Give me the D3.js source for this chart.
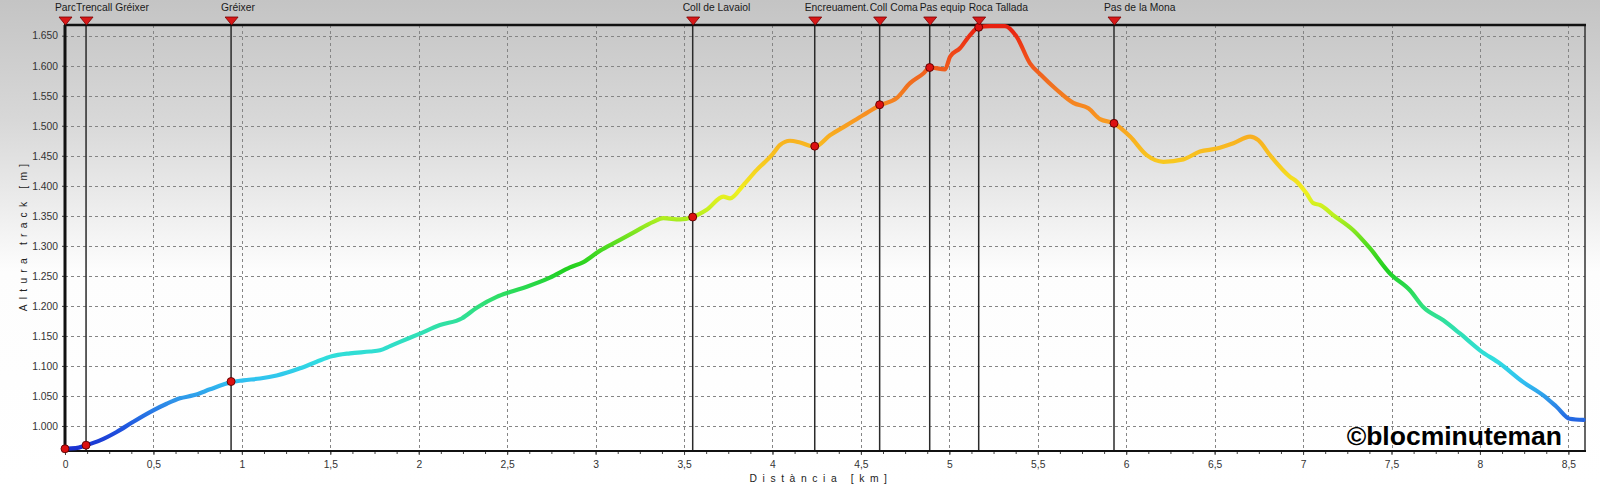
<!DOCTYPE html>
<html><head><meta charset="utf-8">
<script src="https://cdn.jsdelivr.net/npm/d3@7"></script>
<style>
html,body{margin:0;padding:0;background:#fff;}
svg{display:block;font-family:"Liberation Sans",Arial,sans-serif;}
</style></head>
<body>
<svg id="chart" width="1600" height="485"></svg>
<script>
// ---- data ----
const distKm = [0.000,0.060,0.119,0.198,0.292,0.386,0.499,0.575,0.650,0.726,0.820,0.895,0.939,1.008,1.103,1.197,1.329,1.423,1.508,1.611,1.725,1.781,1.838,1.894,2.000,2.120,2.243,2.328,2.441,2.516,2.611,2.742,2.855,2.931,3.025,3.119,3.213,3.326,3.383,3.477,3.549,3.628,3.722,3.760,3.835,3.910,3.996,4.043,4.099,4.156,4.239,4.325,4.420,4.514,4.606,4.702,4.778,4.853,4.889,4.976,5.004,5.060,5.117,5.166,5.230,5.315,5.381,5.456,5.517,5.607,5.701,5.786,5.852,5.931,6.022,6.116,6.210,6.323,6.417,6.511,6.606,6.700,6.747,6.813,6.926,6.964,7.020,7.058,7.096,7.171,7.284,7.378,7.491,7.604,7.679,7.793,7.887,8.000,8.113,8.245,8.358,8.433,8.508,8.586];
const elevM  = [962,963,968,976,990,1007,1026,1037,1046,1051,1061,1069,1073,1076,1079,1084,1096,1107,1116,1121,1124,1126,1133,1140,1153,1168,1179,1197,1215,1223,1232,1247,1264,1273,1292,1307,1322,1340,1346,1344,1348,1360,1382,1379,1401,1426,1451,1468,1475,1472,1465,1484,1501,1518,1534,1546,1571,1587,1597,1594,1615,1629,1651,1664,1666,1666,1648,1604,1585,1560,1538,1529,1511,1504,1482,1451,1440,1444,1457,1462,1471,1482,1476,1451,1415,1407,1387,1371,1368,1351,1326,1296,1254,1226,1198,1176,1154,1126,1104,1073,1051,1032,1012,1010];

const wpNames = ["Parc","Trencall Gréixer","Gréixer","Coll de Lavaiol","Encreuament.","Coll Coma","Pas equip","Roca Tallada","Pas de la Mona"];
const wpDist  = [0.000,0.119,0.939,3.549,4.239,4.606,4.889,5.166,5.931];
const wpElev  = [962,968,1074,1348,1466,1535,1597,1664,1504];

const yTicks = [1000,1050,1100,1150,1200,1250,1300,1350,1400,1450,1500,1550,1600,1650];
const xTicks = [0,0.5,1,1.5,2,2.5,3,3.5,4,4.5,5,5.5,6,6.5,7,7.5,8,8.5];

const colorElev = [960,1000,1040,1075,1110,1160,1210,1260,1300,1350,1390,1440,1480,1520,1570,1620,1665];
const colorHex  = ["#1a2fd0","#2058e0","#2e90e8","#30c0f0","#30dde0","#30e0b0","#30e070","#20d020","#50dc20","#b8f020","#f0f020","#f8c820","#f8b020","#f89020","#f07020","#f04818","#e82010"];

// ---- layout ----
const W = 1600, H = 485;
const L = 65, R = 1585, T = 25, B = 451;
const svg = d3.select("#chart");
const x = d3.scaleLinear().domain([0, 8.594]).range([L, R]);
const y = d3.scaleLinear().domain([958.3, 1667.8]).range([B, T]);

const loc = d3.formatLocale({decimal: ",", thousands: ".", grouping: [3], currency: ["", ""]});
const fy = loc.format(",");
const fx = loc.format(".1~f");

const defs = svg.append("defs");
const bg = defs.append("linearGradient").attr("id","bg").attr("x1",0).attr("y1",0).attr("x2",0).attr("y2",1);
[[0,"#c4c4c4"],[0.25,"#d8d8d8"],[0.42,"#ececec"],[0.56,"#fdfdfd"],[1,"#ffffff"]].forEach(s=>bg.append("stop").attr("offset",s[0]).attr("stop-color",s[1]));

const lg = defs.append("linearGradient").attr("id","prof").attr("gradientUnits","userSpaceOnUse")
  .attr("x1",0).attr("x2",0).attr("y1",y(colorElev[0])).attr("y2",y(colorElev[colorElev.length-1]));
const e0 = colorElev[0], e1 = colorElev[colorElev.length-1];
colorElev.forEach((e,i)=>lg.append("stop").attr("offset",(e-e0)/(e1-e0)).attr("stop-color",colorHex[i]));

svg.append("rect").attr("width",W).attr("height",H).attr("fill","url(#bg)");

// grid
const grid = svg.append("g").attr("stroke","#858585").attr("stroke-width",1).attr("stroke-dasharray","3,3");
grid.selectAll(".gy").data(yTicks).join("line")
  .attr("x1",L).attr("x2",R).attr("y1",d=>Math.round(y(d))+0.5).attr("y2",d=>Math.round(y(d))+0.5);
grid.selectAll(".gx").data(xTicks.filter(d=>d>0)).join("line")
  .attr("y1",T).attr("y2",B).attr("x1",d=>Math.round(x(d))+0.5).attr("x2",d=>Math.round(x(d))+0.5);

// x axis
const xAxis = d3.axisBottom(x).tickValues(xTicks).tickFormat(fx).tickSize(4).tickPadding(6);
const gx = svg.append("g").attr("transform",`translate(0,${B})`).call(xAxis);
const minor = d3.range(0, 8.594, 0.125);
const gxm = svg.append("g").attr("transform",`translate(0,${B})`).call(d3.axisBottom(x).tickValues(minor).tickFormat("").tickSize(3));
gxm.select(".domain").remove();
gxm.selectAll("line").attr("stroke","#444");
gx.select(".domain").remove();
gx.selectAll("line").attr("stroke","#444");
gx.selectAll("text").attr("font-size","10.3px").attr("fill","#333").attr("font-family","Liberation Sans, Arial, sans-serif");

// y axis
const yAxis = d3.axisLeft(y).tickValues(yTicks).tickFormat(fy).tickSize(3).tickPadding(4);
const gy = svg.append("g").attr("transform",`translate(${L},0)`).call(yAxis);
gy.select(".domain").remove();
gy.selectAll("line").attr("stroke","#444");
gy.selectAll("text").attr("font-size","10.3px").attr("fill","#333").attr("font-family","Liberation Sans, Arial, sans-serif");

// waypoint vertical lines
svg.append("g").selectAll("line").data(wpDist).join("line")
  .attr("x1",d=>x(d)).attr("x2",d=>x(d)).attr("y1",T).attr("y2",B)
  .attr("stroke","#2a2a2a").attr("stroke-width",1.5);

// frame
svg.append("line").attr("x1",R).attr("x2",R).attr("y1",T).attr("y2",B).attr("stroke","#333").attr("stroke-width",1.5);
svg.append("line").attr("x1",L).attr("x2",R+1).attr("y1",B).attr("y2",B).attr("stroke","#111").attr("stroke-width",2);
svg.append("line").attr("x1",L-1).attr("x2",R+1).attr("y1",T).attr("y2",T).attr("stroke","#111").attr("stroke-width",2.5);
svg.append("line").attr("x1",L).attr("x2",L).attr("y1",T).attr("y2",B+1).attr("stroke","#111").attr("stroke-width",3);

// profile
const pts = distKm.map((d,i)=>[d, elevM[i]]);
const line = d3.line().x(d=>x(d[0])).y(d=>y(d[1])).curve(d3.curveMonotoneX);
svg.append("path").attr("d",line(pts)).attr("fill","none")
  .attr("stroke","url(#prof)").attr("stroke-width",4.2).attr("stroke-linejoin","round").attr("stroke-linecap","round");

// waypoint dots
svg.append("g").selectAll("circle").data(wpDist).join("circle")
  .attr("cx",d=>x(d)).attr("cy",(d,i)=>y(wpElev[i])).attr("r",4)
  .attr("fill","#dd1111").attr("stroke","#5a0000").attr("stroke-width",0.9);

// triangles
svg.append("g").selectAll("path").data(wpDist).join("path")
  .attr("d",d=>{const cx=x(d)+0.5; return `M${cx-6.5},${T-8}L${cx+6.5},${T-8}L${cx},${T}Z`;})
  .attr("fill","#d81818").attr("stroke","#7a0000").attr("stroke-width",0.8);

// labels (each clipped by the start of the next)
const labStart = wpDist.map(d=>x(d)-10);
wpNames.forEach((name,i)=>{
  const end = i < wpNames.length-1 ? labStart[i+1]-0.5 : W;
  const cid = "clip"+i;
  defs.append("clipPath").attr("id",cid).append("rect")
    .attr("x",labStart[i]).attr("y",0).attr("width",Math.max(0,end-labStart[i])).attr("height",16);
  svg.append("text").attr("x",labStart[i]).attr("y",11).attr("clip-path",`url(#${cid})`)
    .attr("font-size","10.3px").attr("fill","#1a1a1a").text(name);
});

// axis titles
svg.append("text").attr("x",(L+R)/2 - 4).attr("y",482).attr("text-anchor","middle")
  .attr("font-size","10.3px").attr("fill","#222").attr("letter-spacing","5.6px").text("Distància [km]");
svg.append("text").attr("transform",`translate(27,${(T+B)/2 - 3}) rotate(-90)`).attr("text-anchor","middle")
  .attr("font-size","10.3px").attr("fill","#222").attr("letter-spacing","5.2px").text("Altura track [m]");

// watermark
svg.append("text").attr("x",1562).attr("y",445).attr("text-anchor","end")
  .attr("font-size","26.5px").attr("font-weight","bold").attr("fill","#000").text("©blocminuteman");
</script>
</body></html>
